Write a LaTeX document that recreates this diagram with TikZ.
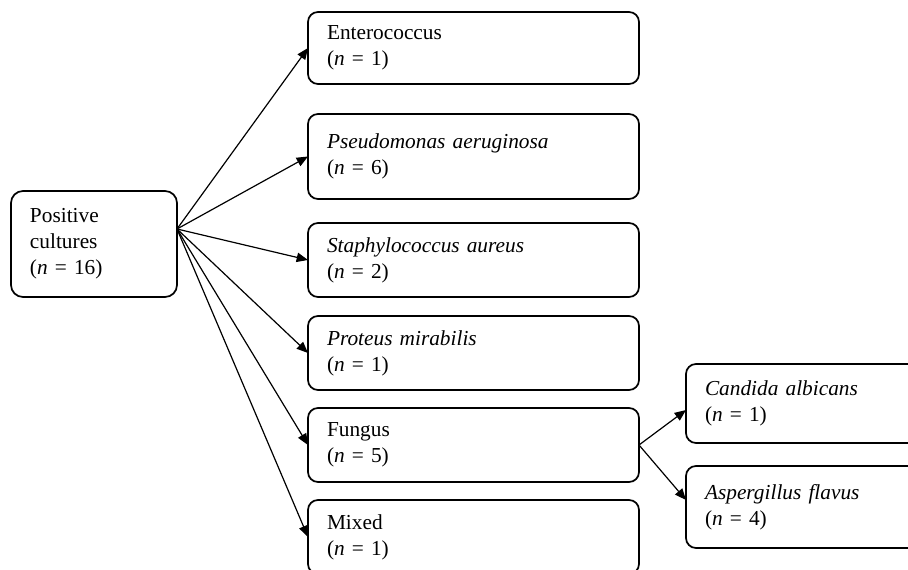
\documentclass[tikz,border=0pt]{standalone}
\usepackage{fontspec}
\setmainfont{Liberation Serif}
\usepackage{tikz}
\usetikzlibrary{positioning, calc, arrows.meta}
\newcommand{\ncount}[1]{(\textit{n} = #1)}

\begin{document}
\begin{tikzpicture}[x=0.75pt, y=-0.75pt, >={Triangle[length=8.5pt,width=7pt]},
    font=\fontsize{16pt}{19.5pt}\selectfont,
    box/.style={draw, line width=1.3pt, rounded corners=7.5pt, anchor=north west, outer sep=0pt,
      align=left, inner xsep=14.25pt, inner ysep=0pt},
    midbox/.style={box, text width=219.75pt, minimum height=55.5pt},
    arr/.style={->, line width=0.9pt}]
    \useasboundingbox (0,0) rectangle (908,570);
    \clip (0,0) rectangle (908,570);
    \node[box, rounded corners=9pt, text width=96pt, minimum height=79.5pt] (root) at (11,191) {Positive\\ cultures\\ \ncount{16}};
    \node[midbox, minimum height=54pt] (entero) at (308,12) {Enterococcus\\ \ncount{1}};
    \node[midbox, minimum height=63.75pt] (pseudo) at (308,114) {\textit{Pseudomonas aeruginosa}\\ \ncount{6}};
    \node[midbox] (staph) at (308,223) {\textit{Staphylococcus aureus}\\ \ncount{2}};
    \node[midbox] (proteus) at (308,316) {\textit{Proteus mirabilis}\\ \ncount{1}};
    \node[midbox] (fungus) at (308,408) {Fungus\\ \ncount{5}};
    \node[midbox] (mixed) at (308,500) {Mixed\\ \ncount{1}};
    \node[box, text width=151.5pt, minimum height=59.25pt] (candida) at (686,364) {\textit{Candida albicans}\\ \ncount{1}};
    \node[box, text width=151.5pt, minimum height=61.5pt] (asper) at (686,466) {\textit{Aspergillus flavus}\\ \ncount{4}};
    \coordinate (hub) at ([yshift=11.25pt]root.east);
    \foreach \t in {entero, pseudo, staph, proteus, fungus, mixed}
      \draw[arr] (hub) -- (\t.west);
    \draw[arr] (fungus.east) -- ([yshift=-4.9pt]candida.west);
    \draw[arr] (fungus.east) -- ([yshift=5.25pt]asper.west);
  \end{tikzpicture}
\end{document}
